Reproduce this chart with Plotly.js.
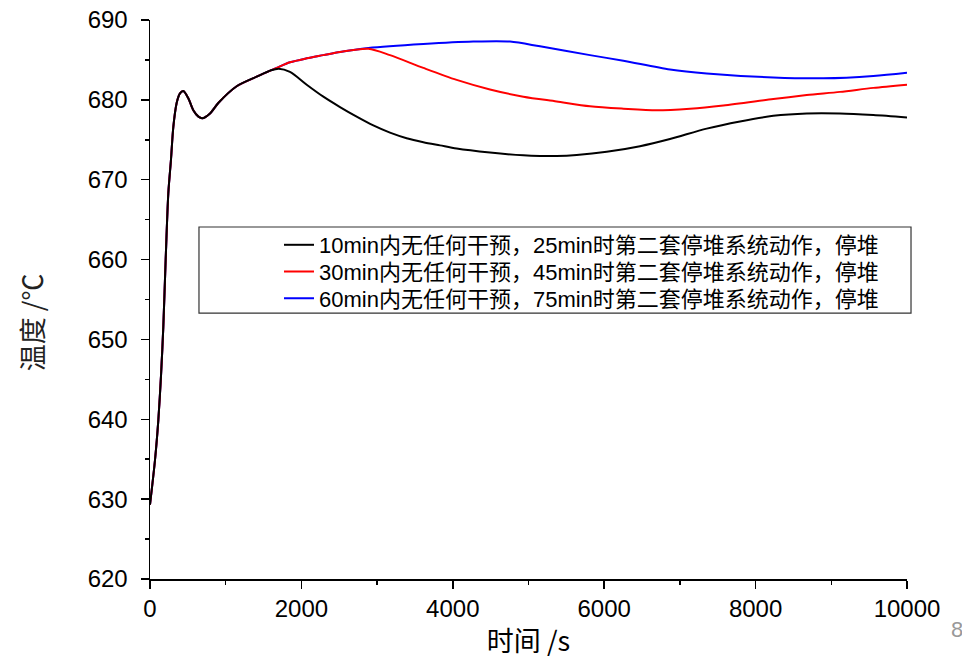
<!DOCTYPE html>
<html>
<head>
<meta charset="utf-8">
<script src="https://cdn.plot.ly/plotly-3.0.1.min.js"></script>
<style>html,body{margin:0;padding:0;background:#fff;}</style>
</head>
<body>
<div id="chart" style="width:962px;height:659px;"></div>
<script>
// Series names
const seriesNames = [
  "10min内无任何干预，25min时第二套停堆系统动作，停堆",
  "30min内无任何干预，45min时第二套停堆系统动作，停堆",
  "60min内无任何干预，75min时第二套停堆系统动作，停堆"
];

// Black: 10 min case (time s, temperature °C)
const timeBlack = [0, 66, 110, 145, 176, 207, 242, 277, 308, 352, 396, 440, 506, 572, 640, 690, 793, 902, 1145, 1409, 1600, 1700, 1849, 2070, 2290, 2510, 2730, 2950, 3170, 3390, 3611, 3831, 4051, 4491, 4932, 5152, 5372, 5636, 6033, 6473, 6869, 7354, 7794, 8234, 8675, 9115, 9555, 10000];
const tempBlack = [629.3, 634.9, 639.9, 645.4, 651.6, 660.0, 668.3, 672.5, 676.6, 679.6, 680.8, 681.1, 680.2, 678.7, 677.9, 677.7, 678.3, 679.6, 681.7, 682.9, 683.7, 683.9, 683.5, 681.9, 680.4, 679.1, 677.9, 676.8, 675.9, 675.2, 674.7, 674.3, 673.9, 673.4, 673.05, 672.97, 672.97, 673.1, 673.5, 674.2, 675.1, 676.4, 677.3, 678.0, 678.3, 678.3, 678.1, 677.8];

// Red: 30 min case
const timeRed = [0, 66, 110, 145, 176, 207, 242, 277, 308, 352, 396, 440, 506, 572, 640, 690, 793, 902, 1145, 1409, 1673, 1849, 2070, 2290, 2510, 2884, 3170, 3611, 4051, 4491, 4932, 5372, 5812, 6253, 6693, 7134, 7574, 8234, 8675, 9115, 9555, 10000];
const tempRed = [629.3, 634.9, 639.9, 645.4, 651.6, 660.0, 668.3, 672.5, 676.6, 679.6, 680.8, 681.1, 680.2, 678.7, 677.9, 677.7, 678.3, 679.6, 681.7, 682.9, 684.0, 684.7, 685.2, 685.6, 686.0, 686.4, 685.6, 684.0, 682.5, 681.3, 680.4, 679.8, 679.2, 678.9, 678.7, 678.9, 679.3, 680.1, 680.6, 681.0, 681.5, 681.9];

// Blue: 60 min case
const timeBlue = [0, 66, 110, 145, 176, 207, 242, 277, 308, 352, 396, 440, 506, 572, 640, 690, 793, 902, 1145, 1409, 1673, 1849, 2070, 2290, 2510, 2884, 3611, 4271, 4756, 5152, 5812, 6253, 6869, 7354, 8234, 8895, 9555, 10000];
const tempBlue = [629.3, 634.9, 639.9, 645.4, 651.6, 660.0, 668.3, 672.5, 676.6, 679.6, 680.8, 681.1, 680.2, 678.7, 677.9, 677.7, 678.3, 679.6, 681.7, 682.9, 684.0, 684.7, 685.2, 685.6, 686.0, 686.5, 687.0, 687.3, 687.3, 686.7, 685.6, 684.9, 683.8, 683.3, 682.8, 682.7, 683.0, 683.4];

// Tick values (axis labels)
const xTicks = [0, 2000, 4000, 6000, 8000, 10000];
const yTicks = [620, 630, 640, 650, 660, 670, 680, 690];

const FONT_LATIN = "'Liberation Sans', Arial, 'Noto Sans CJK SC', sans-serif";
const FONT_CJK = "'Noto Sans CJK SC', 'Liberation Sans', sans-serif";

function mk(x, y, name, color, legendId) {
  return {
    x: x, y: y, name: name, type: 'scatter', mode: 'lines',
    line: {color: color, width: 2, shape: 'spline', smoothing: 0.8},
    legend: legendId
  };
}

const data = [
  mk(timeBlue, tempBlue, seriesNames[2], '#0000ff', 'legend3'),
  mk(timeRed, tempRed, seriesNames[1], '#ff0000', 'legend2'),
  mk(timeBlack, tempBlack, seriesNames[0], '#000000', 'legend')
];

const legendBase = {
  x: 0.1704, xanchor: 'left', yanchor: 'middle',
  bgcolor: 'rgba(0,0,0,0)', borderwidth: 0,
  font: {family: FONT_LATIN, size: 22, color: '#000'}
};

const layout = {
  width: 962, height: 659,
  margin: {l: 150, r: 55, t: 20, b: 80},
  paper_bgcolor: '#fff', plot_bgcolor: '#fff',
  showlegend: true,
  legend: Object.assign({}, legendBase, {y: 0.5975}),
  legend2: Object.assign({}, legendBase, {y: 0.5497}),
  legend3: Object.assign({}, legendBase, {y: 0.5021}),
  xaxis: {
    range: [0, 10000], tickmode: 'array', tickvals: xTicks, ticktext: xTicks.map(String),
    showgrid: false, zeroline: false,
    showline: true, linecolor: '#000', linewidth: 1.5,
    ticks: 'outside', ticklen: 8, tickwidth: 1.5, tickcolor: '#000',
    minor: {ticks: 'outside', ticklen: 4, tickwidth: 1.5, tickcolor: '#000', dtick: 1000, tick0: 0, showgrid: false},
    tickfont: {family: FONT_LATIN, size: 24, color: '#000'},
    title: {text: '时间 /s', font: {family: FONT_CJK, size: 27, color: '#000'}, standoff: 15}
  },
  yaxis: {
    range: [620, 690], tickmode: 'array', tickvals: yTicks, ticktext: yTicks.map(String),
    showgrid: false, zeroline: false,
    showline: true, linecolor: '#000', linewidth: 1.5,
    ticks: 'outside', ticklen: 8, tickwidth: 1.5, tickcolor: '#000',
    ticklabelstandoff: 8,
    minor: {ticks: 'outside', ticklen: 4, tickwidth: 1.5, tickcolor: '#000', dtick: 5, tick0: 620, showgrid: false},
    tickfont: {family: FONT_LATIN, size: 24, color: '#000'}
  },
  shapes: [{
    type: 'rect', xref: 'paper', yref: 'paper',
    x0: 0.0647, x1: 1.0053, y0: 0.4758, y1: 0.6297,
    line: {color: '#333', width: 1.2}, fillcolor: 'rgba(0,0,0,0)', layer: 'below'
  }],
  annotations: [{
    text: '温度 /℃', xref: 'paper', yref: 'paper', x: -0.157, y: 0.4597,
    xanchor: 'center', yanchor: 'middle', textangle: -90, showarrow: false,
    font: {family: FONT_CJK, size: 27, color: '#222'}
  }, {
    text: '8', xref: 'paper', yref: 'paper', x: 1.0555, y: -0.091,
    xanchor: 'left', yanchor: 'middle', showarrow: false,
    font: {family: FONT_LATIN, size: 22, color: '#999'}
  }]
};

Plotly.newPlot('chart', data, layout, {displayModeBar: false, staticPlot: true});
</script>
</body>
</html>
